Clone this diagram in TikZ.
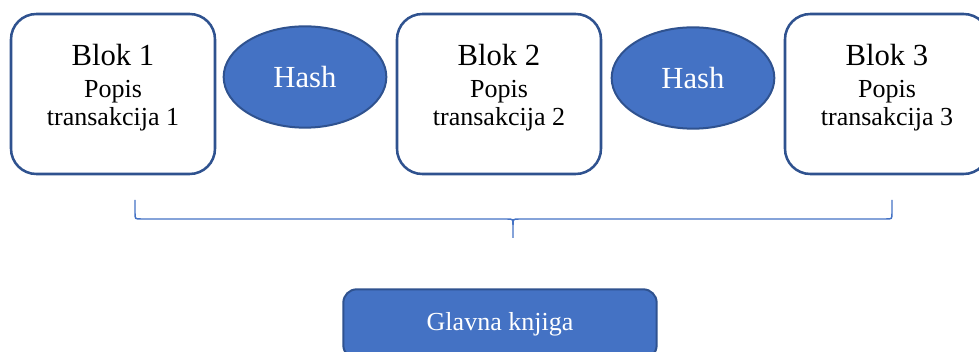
\documentclass[tikz,border=0pt]{standalone}
\usepackage{fontspec}
\setmainfont{Liberation Serif}
\usetikzlibrary{positioning,shapes.geometric}
\definecolor{okvir}{RGB}{47,82,143}
\definecolor{plava}{RGB}{68,114,196}

\begin{document}
\begin{tikzpicture}[x=0.75pt,y=-0.75pt,
  blok/.style={draw=okvir,line width=1.9pt,rounded corners=19pt,fill=white,
    minimum width=153pt,minimum height=120pt,inner sep=0pt},
  bloktekst/.style={align=center,inner sep=0pt,yshift=4.5pt,
    font=\fontsize{19.5}{21}\selectfont},
  hash/.style={ellipse,draw=okvir,line width=1.5pt,fill=plava,text=white,
    minimum width=122pt,minimum height=76pt,inner sep=0pt,
    font=\fontsize{23}{27}\selectfont},
  knjiga/.style={draw=okvir,line width=1.5pt,rounded corners=10pt,fill=plava,
    text=white,minimum width=235pt,minimum height=52pt,
    font=\fontsize{19.5}{23}\selectfont}]

\useasboundingbox (0,0) rectangle (979,352);
\clip (0,0) rectangle (979,352);

% blokovi
\node[blok] (blok1) at (113,94) {};
\node[blok] (blok2) at (499,94) {};
\node[blok] (blok3) at (887,94) {};
\node[bloktekst] (tekst1) at (blok1.center) {{\fontsize{23}{27}\selectfont Blok 1}\\[3pt] Popis\\ transakcija 1};
\node[bloktekst] (tekst2) at (blok2.center) {{\fontsize{23}{27}\selectfont Blok 2}\\[3pt] Popis\\ transakcija 2};
\node[bloktekst] (tekst3) at (blok3.center) {{\fontsize{23}{27}\selectfont Blok 3}\\[3pt] Popis\\ transakcija 3};

% hash
\node[hash] (hash1) at (305,77) {Hash};
\node[hash] (hash2) at (693,78) {Hash};

% zagrada
\coordinate (zL) at (135,200);
\coordinate (zR) at (892,200);
\coordinate (zV) at (513,238);
\draw[plava,line width=1.1pt] (zL) -- (135,213) .. controls (135,219) .. (141,219)
  -- (507,219) .. controls (513,219) .. (513,225) -- (zV);
\draw[plava,line width=1.1pt] (513,225) .. controls (513,219) .. (519,219)
  -- (886,219) .. controls (892,219) .. (892,213) -- (zR);

\node[knjiga] (knjiga) at (500,324) {Glavna knjiga};
\end{tikzpicture}
\end{document}
